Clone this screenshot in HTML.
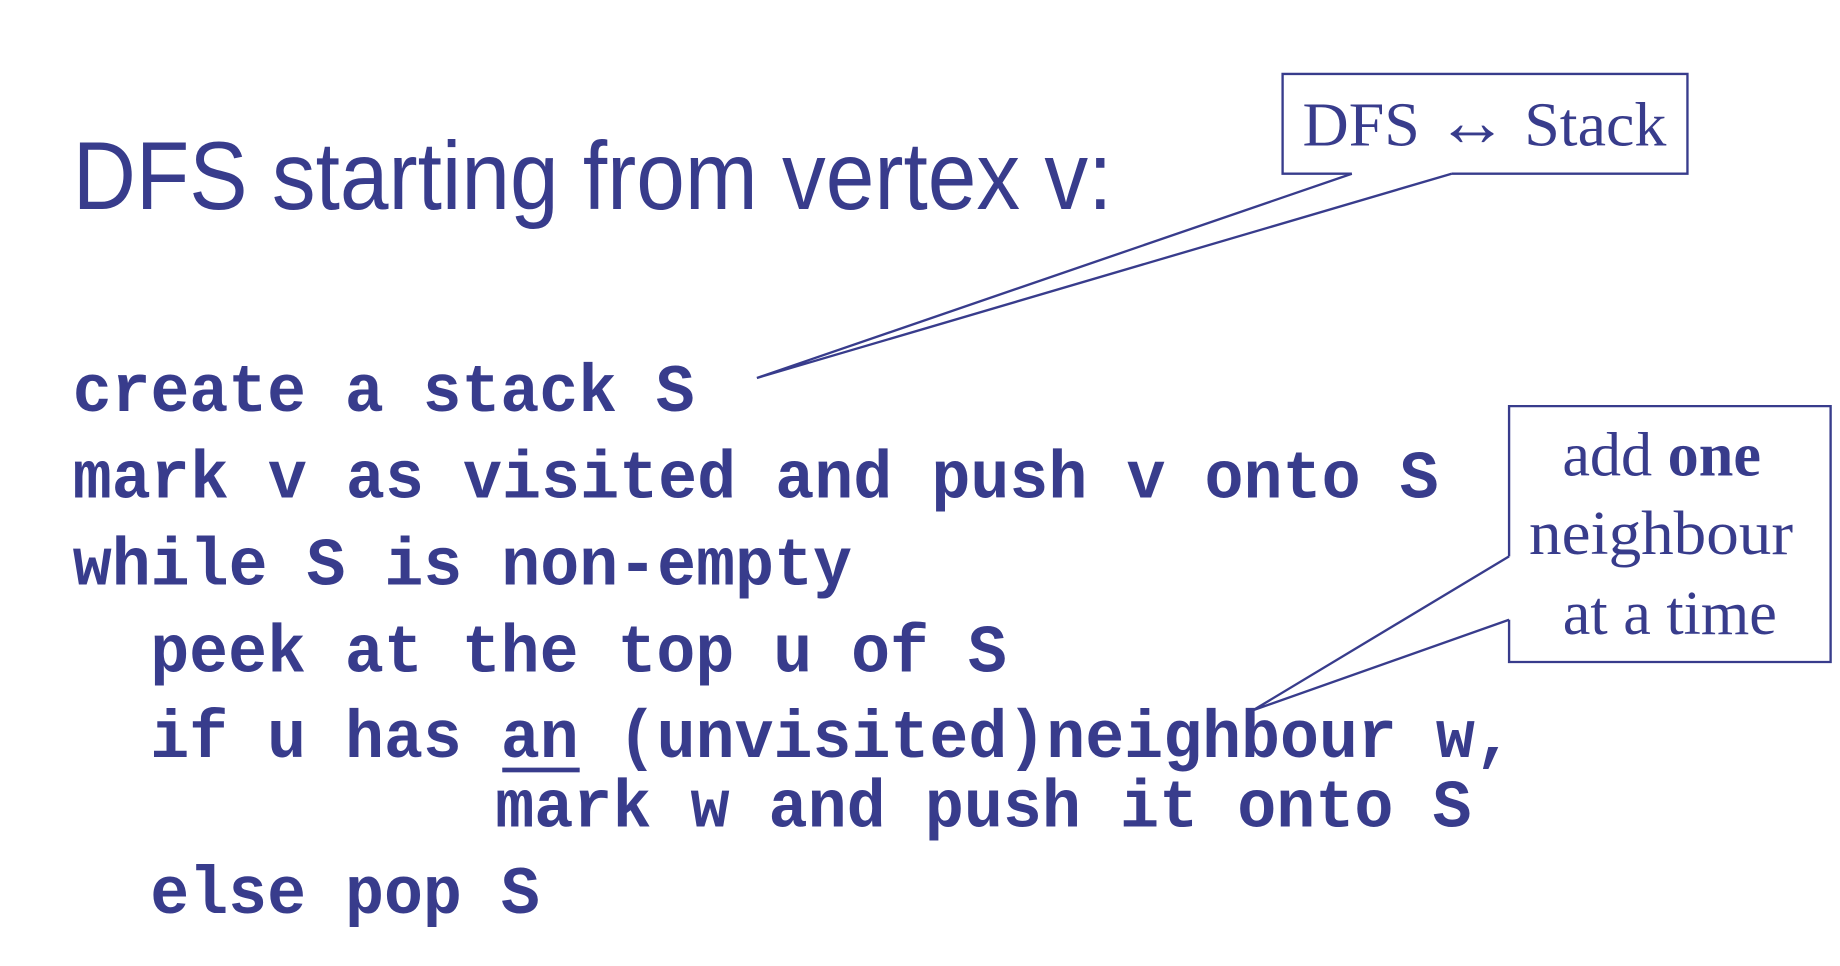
<!DOCTYPE html>
<html><head><meta charset="utf-8"><style>html,body{margin:0;padding:0;background:#fff}svg{display:block}</style></head>
<body>
<svg width="1840" height="966" viewBox="0 0 1568 823" preserveAspectRatio="none" xmlns="http://www.w3.org/2000/svg">
<rect width="1568" height="823" fill="#fff"/>
<g fill="#383c8c">
<text x="62" y="178" font-family="Liberation Sans, sans-serif" font-size="82" textLength="886" lengthAdjust="spacingAndGlyphs">DFS starting from vertex v:</text>
<g font-family="Liberation Mono, monospace" font-weight="bold" font-size="58">
<text x="62" y="350" textLength="530" lengthAdjust="spacingAndGlyphs">create a stack S</text>
<text x="62" y="424" textLength="1164" lengthAdjust="spacingAndGlyphs">mark v as visited and push v onto S</text>
<text x="62" y="498" textLength="664" lengthAdjust="spacingAndGlyphs">while S is non-empty</text>
<text x="128" y="572" textLength="730" lengthAdjust="spacingAndGlyphs">peek at the top u of S</text>
<text x="128" y="645" textLength="1162" lengthAdjust="spacingAndGlyphs">if u has an (unvisited)neighbour w,</text>
<text x="422" y="704" textLength="832" lengthAdjust="spacingAndGlyphs">mark w and push it onto S</text>
<text x="128" y="778" textLength="332" lengthAdjust="spacingAndGlyphs">else pop S</text>
</g>
<rect x="428" y="654" width="66" height="4"/>
</g>
<g stroke="#383c8c" stroke-width="2" fill="#fff">
<polyline points="1152,148 1093,148 1093,63 1438,63 1438,148 1237,148" />
<polyline points="1152,148 645,322 1237,148" fill="none"/>
<polyline points="1286,474 1286,346 1560,346 1560,564 1286,564 1286,528"/>
<polyline points="1286,474 1068,605 1286,528" fill="none"/>
</g>
<g fill="#383c8c" font-family="Liberation Serif, serif" font-size="53">
<text x="1110" y="124" textLength="310" lengthAdjust="spacingAndGlyphs">DFS <tspan font-size="60">↔</tspan> Stack</text>
<text x="1416" y="405" text-anchor="middle">add <tspan font-weight="bold">one</tspan></text>
<text x="1303" y="472" textLength="225" lengthAdjust="spacingAndGlyphs">neighbour</text>
<text x="1423" y="540" text-anchor="middle">at a time</text>
</g>
</svg>
</body></html>
